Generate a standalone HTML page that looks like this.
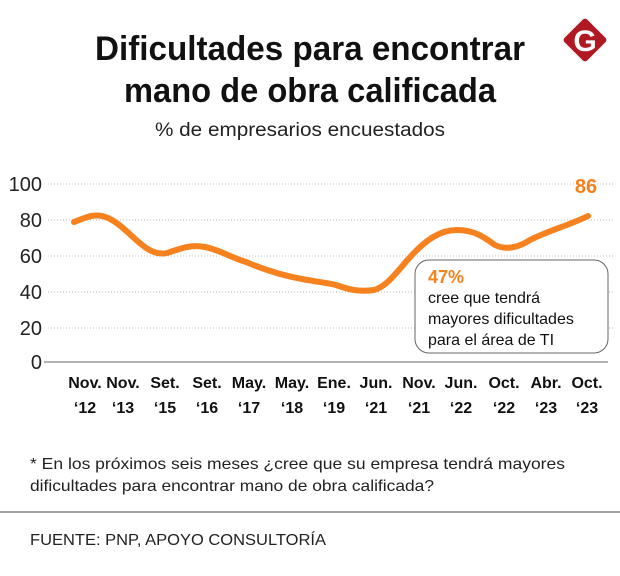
<!DOCTYPE html><html><head><style>
body{margin:0;background:#fff;width:620px;height:571px;overflow:hidden;font-family:"Liberation Sans",sans-serif}
</style></head><body>
<svg width="620" height="571" xmlns="http://www.w3.org/2000/svg" font-family="Liberation Sans, sans-serif">
<text x="310" y="60" text-anchor="middle" font-size="34" font-weight="bold" fill="#111" textLength="430" lengthAdjust="spacingAndGlyphs">Dificultades para encontrar</text>
<text x="310" y="102" text-anchor="middle" font-size="34" font-weight="bold" fill="#111" textLength="372" lengthAdjust="spacingAndGlyphs">mano de obra calificada</text>
<text x="300" y="136" text-anchor="middle" font-size="19" fill="#222" textLength="290" lengthAdjust="spacingAndGlyphs">% de empresarios encuestados</text>
<g transform="translate(585,40) rotate(45)"><rect x="-16" y="-16" width="32" height="32" rx="3" fill="#b01822"/></g>
<text x="585" y="51" text-anchor="middle" font-size="30" font-weight="bold" fill="#fff">G</text>
<g stroke="#bbb" stroke-dasharray="1,2" stroke-width="1">
<line x1="48" x2="615" y1="184" y2="184"/><line x1="48" x2="615" y1="220" y2="220"/><line x1="48" x2="615" y1="256" y2="256"/><line x1="48" x2="615" y1="292" y2="292"/><line x1="48" x2="615" y1="328" y2="328"/></g>
<line x1="44" x2="608" y1="362" y2="362" stroke="#999" stroke-width="1.5"/>
<g font-size="20" fill="#222" text-anchor="end">
<text x="42" y="191">100</text><text x="42" y="227">80</text><text x="42" y="263">60</text><text x="42" y="299">40</text><text x="42" y="335">20</text><text x="42" y="369">0</text></g>
<path d="M74,222 C85,218 95,212 108,218 C130,228 145,258 167,253 C180,249 190,244 205,247 C220,250 232,258 246,262 C265,270 285,276 302,279 C318,282 328,283 336,285 C350,290 360,292 374,290 C388,286 398,270 412,255 C426,240 440,230 457,230 C475,230 485,238 495,245 C505,250 518,248 530,240 C550,230 570,225 588,216" fill="none" stroke="#f5821f" stroke-width="6" stroke-linecap="round"/>
<text x="586" y="193" text-anchor="middle" font-size="20" font-weight="bold" fill="#f5821f">86</text>
<rect x="415" y="260" width="193" height="93" rx="14" fill="#fff" stroke="#666" stroke-width="1"/>
<text x="428" y="283" font-size="18" font-weight="bold" fill="#f5821f">47%</text>
<g font-size="16" fill="#111"><text x="428" y="303">cree que tendrá</text><text x="428" y="324">mayores dificultades</text><text x="428" y="345">para el área de TI</text></g>
<g font-size="16" font-weight="bold" fill="#111" text-anchor="middle">
<text x="85" y="388">Nov.</text><text x="85" y="413">‘12</text>
<text x="123" y="388">Nov.</text><text x="123" y="413">‘13</text>
<text x="165" y="388">Set.</text><text x="165" y="413">‘15</text>
<text x="207" y="388">Set.</text><text x="207" y="413">‘16</text>
<text x="249" y="388">May.</text><text x="249" y="413">‘17</text>
<text x="292" y="388">May.</text><text x="292" y="413">‘18</text>
<text x="334" y="388">Ene.</text><text x="334" y="413">‘19</text>
<text x="376" y="388">Jun.</text><text x="376" y="413">‘21</text>
<text x="419" y="388">Nov.</text><text x="419" y="413">‘21</text>
<text x="461" y="388">Jun.</text><text x="461" y="413">‘22</text>
<text x="504" y="388">Oct.</text><text x="504" y="413">‘22</text>
<text x="546" y="388">Abr.</text><text x="546" y="413">‘23</text>
<text x="587" y="388">Oct.</text><text x="587" y="413">‘23</text></g>
<text x="30" y="469" font-size="16" fill="#222" textLength="535" lengthAdjust="spacingAndGlyphs">* En los próximos seis meses ¿cree que su empresa tendrá mayores</text>
<text x="30" y="491" font-size="16" fill="#222" textLength="404" lengthAdjust="spacingAndGlyphs">dificultades para encontrar mano de obra calificada?</text>
<line x1="0" x2="620" y1="512" y2="512" stroke="#444" stroke-width="1"/>
<text x="30" y="545" font-size="16" fill="#222" textLength="296" lengthAdjust="spacingAndGlyphs">FUENTE: PNP, APOYO CONSULTORÍA</text>
</svg></body></html>
